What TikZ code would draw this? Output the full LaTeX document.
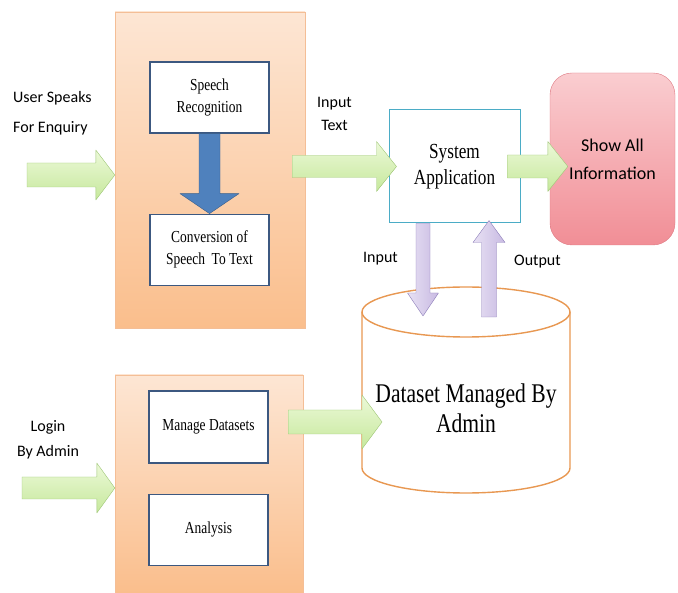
\documentclass[tikz,border=0pt]{standalone}
\usepackage{fontspec}
\setmainfont[FakeStretch=0.8]{Liberation Serif}
\newfontfamily\labelfont{Carlito}
\usetikzlibrary{positioning, calc}

\definecolor{peachtop}{RGB}{253,230,212}
\definecolor{peachbot}{RGB}{250,190,140}
\definecolor{peachline}{RGB}{244,190,150}
\definecolor{boxline}{RGB}{60,88,128}
\definecolor{tealline}{RGB}{75,172,198}
\definecolor{greentop}{RGB}{236,249,216}
\definecolor{greenbot}{RGB}{198,232,156}
\definecolor{greenline}{RGB}{158,198,118}
\definecolor{steel}{RGB}{79,129,189}
\definecolor{steelline}{RGB}{56,93,138}
\definecolor{lilactop}{RGB}{232,225,244}
\definecolor{lilacbot}{RGB}{200,186,226}
\definecolor{lilacline}{RGB}{140,125,185}
\definecolor{pinktop}{RGB}{250,205,208}
\definecolor{pinkbot}{RGB}{241,142,150}
\definecolor{pinkline}{RGB}{222,120,130}
\definecolor{dbline}{RGB}{232,152,82}

% fat arrow: style, from, to, half shaft, half head, head length
\newcommand{\blockarrow}[6]{%
  \coordinate (ba-s) at (#2);
  \coordinate (ba-t) at (#3);
  \coordinate (ba-h) at ($(ba-t)!#6!(ba-s)$);
  \draw[#1] ($(ba-s)!#4!90:(ba-t)$) -- ($(ba-h)!#4!90:(ba-t)$)
    -- ($(ba-h)!#5!90:(ba-t)$) -- (ba-t) -- ($(ba-h)!#5!-90:(ba-t)$)
    -- ($(ba-h)!#4!-90:(ba-t)$) -- ($(ba-s)!#4!-90:(ba-t)$) -- cycle;
}

\begin{document}
\begin{tikzpicture}[x=1pt, y=1pt,
    panel/.style={draw=peachline, top color=peachtop, bottom color=peachbot, inner sep=0pt},
    stepbox/.style={draw=boxline, line width=1.2pt, fill=white, minimum width=119pt,
      minimum height=71pt, inner sep=2pt, align=center, font={\fontsize{16.8}{22}\selectfont}},
    appbox/.style={draw=tealline, line width=1pt, fill=white, minimum width=131pt,
      minimum height=113pt, align=center, font={\fontsize{21.5}{26}\selectfont}},
    showbox/.style={draw=pinkline, top color=pinktop, bottom color=pinkbot, rounded corners=22pt,
      minimum width=125pt, minimum height=172pt, align=center, font={\labelfont\fontsize{18}{28}\selectfont}},
    dbtext/.style={align=center, font={\fontsize{27}{30}\selectfont}},
    dbshape/.style={draw=dbline, line width=1.4pt},
    lbl/.style={align=center, inner sep=0pt, font={\labelfont\fontsize{16}{23}\selectfont}},
    greenarrow/.style={draw=greenline, top color=greentop, bottom color=greenbot, line join=round},
    bluearrow/.style={draw=steelline, fill=steel, line join=round},
    lilacarrow/.style={draw=lilacline, left color=lilactop, right color=lilacbot, line join=round}]
    \useasboundingbox (0,0) rectangle (678,-593);

    % panels
    \node[panel, minimum width=190pt, minimum height=316pt] (topbox) at (210,-170) {};
    \node[panel, minimum width=188pt, minimum height=218pt] (botbox) at (209,-484) {};

    \node[stepbox] (speech) at (209.5,-97.5) {Speech\\Recognition};
    \node[stepbox, below=80pt of speech] (conv) {Conversion of\\Speech~~To Text};
    \node[stepbox, minimum height=72pt] (manage) at (208.5,-427) {Manage Datasets};
    \node[stepbox, below=30pt of manage] (analysis) {Analysis};

    \node[appbox] (sysapp) at (454.5,-166.5) {System\\Application};
    \node[showbox] (showall) at (612.5,-159) {Show All\\Information};

    % dataset store
    \coordinate (dbtop) at (466,-312);
    \coordinate (dbbot) at (466,-468);
    \fill[white] ($(dbtop)+(-104,0)$) -- ($(dbbot)+(-104,0)$)
      arc[start angle=180, end angle=360, x radius=104, y radius=25] -- ($(dbtop)+(104,0)$)
      arc[start angle=0, end angle=180, x radius=104, y radius=25] -- cycle;
    \draw[dbshape] ($(dbtop)+(-104,0)$) -- ($(dbbot)+(-104,0)$)
      arc[start angle=180, end angle=360, x radius=104, y radius=25] -- ($(dbtop)+(104,0)$);
    \draw[dbshape] (dbtop) ellipse[x radius=104, y radius=25];
    \node[dbtext] (db) at (466,-408) {Dataset Managed By\\Admin};

    % labels
    \node[lbl, align=left, anchor=west, font={\labelfont\fontsize{16}{30}\selectfont}] (userlbl) at (13,-113) {User Speaks\\For Enquiry};
    \node[lbl] (intextlbl) at (334.5,-113.5) {Input\\Text};
    \node[lbl, font={\labelfont\fontsize{16}{25}\selectfont}] (loginlbl) at (48,-439.5) {Login\\By Admin};
    \node[lbl] (inlbl) at (380.5,-259) {Input};
    \node[lbl] (outlbl) at (537.5,-262) {Output};

    % arrows
    \coordinate (userin) at (27,-175);
    \coordinate (adminin) at (22,-488);
    \coordinate (dbin) at (382,-422);
    \blockarrow{greenarrow}{userin}{userin -| topbox.west}{12pt}{25pt}{19pt}
    \blockarrow{greenarrow}{adminin}{adminin -| botbox.west}{11pt}{25pt}{18pt}
    \blockarrow{greenarrow}{$(sysapp.west -| topbox.east)+(-13,0)$}{$(sysapp.west)+(8,0)$}{11pt}{25pt}{20pt}
    \blockarrow{greenarrow}{$(sysapp.east)+(-13,0)$}{$(sysapp.east -| showall.west)+(18,0)$}{11.5pt}{25pt}{20pt}
    \blockarrow{greenarrow}{$(dbin -| botbox.east)+(-15,0)$}{dbin}{12pt}{27pt}{20pt}
    \blockarrow{bluearrow}{speech.south}{conv.north}{10.5pt}{29.5pt}{20pt}
    \blockarrow{lilacarrow}{$(sysapp.south)+(-31.5,0)$}{$(dbtop)+(-43,-4)$}{7pt}{15.5pt}{23pt}
    \blockarrow{lilacarrow}{$(dbtop)+(23,-5)$}{$(sysapp.south)+(34.5,3)$}{7.5pt}{16pt}{22pt}
\end{tikzpicture}
\end{document}
